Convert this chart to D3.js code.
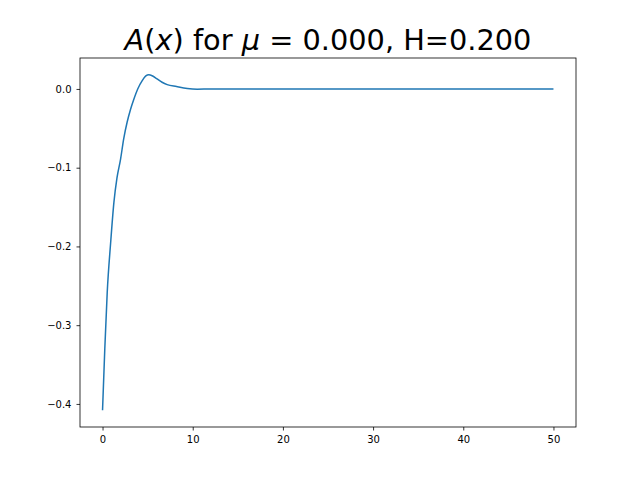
<!DOCTYPE html>
<html>
<head>
<meta charset="utf-8">
<script src="https://cdn.jsdelivr.net/npm/d3@7"></script>
<style>
  body { margin: 0; background: #fff; }
  text { font-family: "DejaVu Sans", sans-serif; }
</style>
</head>
<body>
<svg id="chart" width="640" height="480"></svg>
<script>
// values
const xs = [0, 0.25, 0.52, 0.9, 1.26, 1.6, 2.0, 2.35, 2.73, 3.1, 3.47, 3.9, 4.4, 4.8, 5.13, 5.5, 6.05, 6.6, 7.17, 8.2, 9.4, 10.5, 12, 15, 20, 30, 40, 50];
const ys = [-0.408, -0.33, -0.258, -0.195, -0.144, -0.113, -0.089, -0.063, -0.042, -0.026, -0.013, 0.0, 0.0106, 0.0165, 0.018, 0.0168, 0.0127, 0.0085, 0.0055, 0.003, 0.0005, -0.0003, 0.0, 0.0, 0.0, 0.0, 0.0, 0.0];
const xTicks = [0, 10, 20, 30, 40, 50];
const yTicks = [-0.4, -0.3, -0.2, -0.1, 0.0];

(function draw() {
  const svg = d3.select('#chart');
  const mLeft = 80, mRight = 576, mTop = 58, mBottom = 427;

  const x = d3.scaleLinear().domain([-2.5, 52.5]).range([mLeft, mRight]);
  const yMin = d3.min(ys), yMax = d3.max(ys), pad = (yMax - yMin) * 0.05;
  const y = d3.scaleLinear().domain([yMin - pad, yMax + pad]).range([mBottom, mTop]);

  const fmt = (d) => d.toFixed(1).replace('-', '\u2212');

  const xAxis = svg.append('g').attr('transform', `translate(0,${mBottom})`)
    .call(d3.axisBottom(x).tickValues(xTicks).tickSize(3.5).tickPadding(5).tickFormat(d3.format('d')));
  const yAxis = svg.append('g').attr('transform', `translate(${mLeft},0)`)
    .call(d3.axisLeft(y).tickValues(yTicks).tickSize(3.5).tickPadding(5).tickFormat(fmt));
  [xAxis, yAxis].forEach((a) => {
    a.select('.domain').remove();
    a.selectAll('text').attr('font-size', 10).attr('fill', '#000').style('font-family', 'DejaVu Sans');
    a.selectAll('line').attr('stroke', '#000').attr('stroke-width', 0.8);
  });

  svg.append('path')
    .datum(xs.map((d, i) => [d, ys[i]]))
    .attr('fill', 'none')
    .attr('stroke', '#1f77b4')
    .attr('stroke-width', 1.5)
    .attr('d', d3.line().x((d) => x(d[0])).y((d) => y(d[1])).curve(d3.curveMonotoneX));

  svg.append('rect')
    .attr('x', mLeft).attr('y', mTop).attr('width', mRight - mLeft).attr('height', mBottom - mTop)
    .attr('fill', 'none').attr('stroke', '#000').attr('stroke-width', 0.8);

  const title = svg.append('text')
    .attr('x', (mLeft + mRight) / 2).attr('y', 50)
    .attr('text-anchor', 'middle').attr('font-size', 28.8);
  title.append('tspan').attr('font-style', 'italic').text('A');
  title.append('tspan').text('(');
  title.append('tspan').attr('font-style', 'italic').text('x');
  title.append('tspan').text(') for ');
  title.append('tspan').attr('font-style', 'italic').text('μ');
  title.append('tspan').text(' = 0.000, H=0.200');
})();
</script>
</body>
</html>
